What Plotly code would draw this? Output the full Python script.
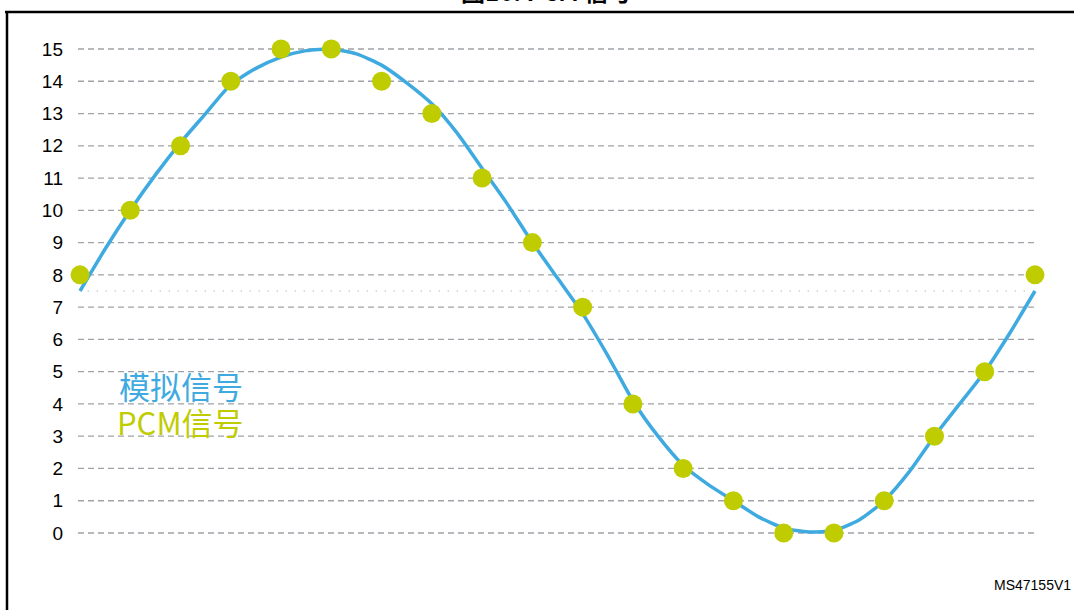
import plotly.graph_objects as go

# ---- data ----
sample_index = list(range(20))
pcm_values = [8, 10, 12, 14, 15, 15, 14, 13, 11, 9, 7, 4, 2, 1, 0, 0, 1, 3, 5, 8]

analog_t = [i * 0.5 for i in range(39)]
analog_values = [7.5, 8.8, 10.0, 11.1, 12.1, 13.0, 13.9, 14.4, 14.75, 14.95,
                 15.0, 14.85, 14.5, 13.95, 13.3, 12.4, 11.3, 10.2, 9.0, 7.9,
                 6.8, 5.5, 4.1, 3.0, 2.1, 1.5, 1.0, 0.5, 0.15, 0.03,
                 0.08, 0.4, 1.0, 1.9, 3.0, 4.0, 5.0, 6.2, 7.5]

y_ticks = list(range(16))
mid_level = 7.5

title_text = "图16. PCM 信号"
label_analog = "模拟信号"
label_pcm = "PCM信号"
doc_id = "MS47155V1"

BLUE = "#3faae0"
GREEN = "#bfcc00"
GRID = "#9fa3a7"
FONT = "Liberation Sans, Arial, Noto Sans CJK SC, sans-serif"
CJK = "Noto Sans CJK SC, Liberation Sans, sans-serif"

fig = go.Figure()

fig.add_trace(go.Scatter(
    x=analog_t, y=analog_values, mode="lines",
    line=dict(color=BLUE, width=3.5, shape="spline", smoothing=0.6),
    hoverinfo="skip", showlegend=False))

fig.add_trace(go.Scatter(
    x=sample_index, y=pcm_values, mode="markers",
    marker=dict(color=GREEN, size=19, line=dict(width=0)),
    showlegend=False))

shapes = []
for v in y_ticks:
    shapes.append(dict(type="line", xref="x", yref="y",
                       x0=sample_index[0] - 0.04, x1=sample_index[-1], y0=v, y1=v,
                       line=dict(color=GRID, width=1.3, dash="6px,4px"), layer="below"))
shapes.append(dict(type="line", xref="x", yref="y",
                   x0=sample_index[0] + 0.15, x1=sample_index[-1] - 0.2, y0=mid_level, y1=mid_level,
                   line=dict(color="#b5b8bb", width=1.2, dash="1.5px,7.5px"), layer="below"))

# border frame
L = 64
W = 1074 - L
def px(xpix):
    return (xpix - L) / W
def py(ypix):
    return 1 - ypix / 610
shapes.append(dict(type="line", xref="paper", yref="paper",
                   x0=px(5), x1=px(1080), y0=py(12), y1=py(12),
                   line=dict(color="black", width=2.5)))
shapes.append(dict(type="line", xref="paper", yref="paper",
                   x0=px(7), x1=px(7), y0=py(11), y1=py(620),
                   line=dict(color="black", width=2.5)))

annotations = [
    dict(text=f"<b>{title_text}</b>", xref="paper", yref="paper",
         x=px(546), y=1, xanchor="center", yanchor="bottom", yshift=-10,
         showarrow=False, font=dict(family=CJK, size=24, color="black")),
    dict(text=label_analog, xref="paper", yref="paper",
         x=px(117), y=py(385), xanchor="left", yanchor="middle",
         showarrow=False, font=dict(family=CJK, size=31, color=BLUE)),
    dict(text=label_pcm, xref="paper", yref="paper",
         x=px(115), y=py(421), xanchor="left", yanchor="middle",
         showarrow=False, font=dict(family=CJK, size=31, color=GREEN)),
    dict(text=doc_id, xref="paper", yref="paper",
         x=px(1073), y=py(585), xanchor="right", yanchor="middle",
         showarrow=False, font=dict(family=FONT, size=14, color="black")),
]

# scales: t=0 at px 80, t=19 at px 1035 ; v=0 at py 533, v=15 at py 49
kx = (1035 - 80) / 19
x0 = -(80 - L) / kx
x1 = x0 + W / kx
ky = (533 - 49) / 15
y_top = 533 / ky
y_bot = -(610 - 533) / ky

fig.update_layout(
    width=1074, height=610,
    margin=dict(l=L, r=0, t=0, b=0),
    paper_bgcolor="white", plot_bgcolor="white",
    shapes=shapes, annotations=annotations,
    xaxis=dict(range=[x0, x1], visible=False, showgrid=False, zeroline=False),
    yaxis=dict(range=[y_bot, y_top], tickvals=y_ticks, showgrid=False, zeroline=False,
               showline=False, ticks="", tickfont=dict(family=FONT, size=19, color="black")),
    showlegend=False,
)

fig.write_html("out.html",
               config={"displayModeBar": False},
               post_script="document.body.style.margin='0';document.body.style.padding='0';document.body.style.overflow='hidden';")
